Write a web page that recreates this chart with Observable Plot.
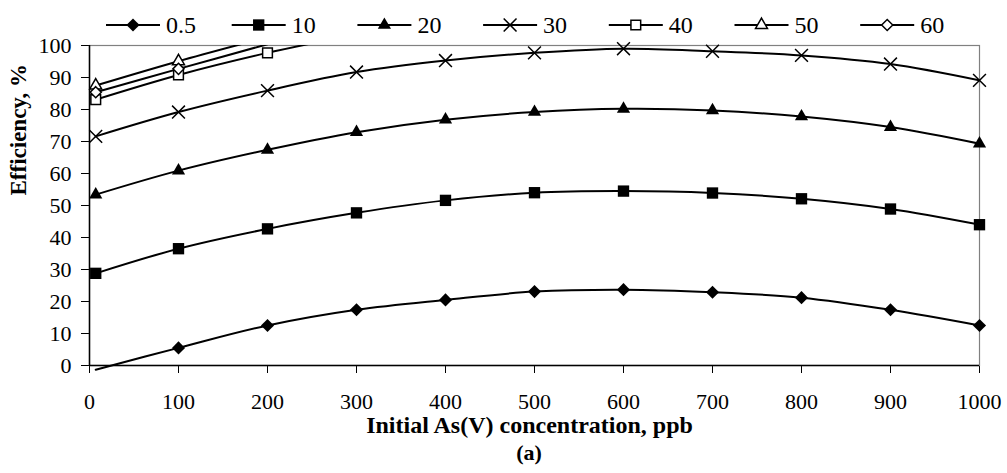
<!DOCTYPE html>
<html>
<head>
<meta charset="utf-8">
<script src="https://cdn.jsdelivr.net/npm/d3@7"></script>
<script src="https://cdn.jsdelivr.net/npm/@observablehq/plot@0.6"></script>
<style>
  html, body { margin: 0; padding: 0; background: #fff; }
  body { width: 1007px; height: 473px; overflow: hidden; font-family: "Liberation Serif", "Times New Roman", serif; color: #000; }
  #legend { height: 40px; }
  #legend svg, #chart svg { display: block; overflow: visible; }
  #caption { position: absolute; left: 0; top: 441px; width: 1007px; box-sizing: border-box; padding-left: 51px;
             text-align: center; font-weight: bold; font-size: 22px; line-height: 24px; }
</style>
</head>
<body>
<div id="legend"></div>
<div id="chart"></div>
<div id="caption">(a)</div>
<script>
// ---- data ----
const xValues = [7, 100, 200, 300, 400, 500, 600, 700, 800, 900, 1000];
const seriesNames = ["0.5", "10", "20", "30", "40", "50", "60"];
const eff05 = [-1.3, 5.5, 12.5, 17.4, 20.5, 23.1, 23.7, 22.9, 21.2, 17.4, 12.5];
const eff10 = [28.8, 36.5, 42.7, 47.7, 51.6, 54.0, 54.5, 53.9, 52.1, 48.9, 44.0];
const eff20 = [53.4, 60.9, 67.4, 72.9, 76.8, 79.2, 80.2, 79.7, 77.8, 74.5, 69.3];
const eff30 = [71.6, 79.2, 85.9, 91.7, 95.3, 97.7, 99.0, 98.2, 96.9, 94.2, 89.1];
const eff40 = [83.1, 90.8, 97.7, 103.5];
const eff50 = [87.5, 95.1, 102.6];
const eff60 = [85.4, 92.7, 100.4];
const xTicks = [0, 100, 200, 300, 400, 500, 600, 700, 800, 900, 1000];
const yTicks = [0, 10, 20, 30, 40, 50, 60, 70, 80, 90, 100];
const xTitle = "Initial As(V) concentration, ppb";
const yTitle = "Efficiency, %";

// ---- styles (kept apart from the data) ----
const markerStyles = [
  {symbol: "diamond2", d3sym: d3.symbolDiamond2, fill: "black", stroke: "none", r: 5.9},
  {symbol: "square",   d3sym: d3.symbolSquare,   fill: "black", stroke: "none", r: 6.4},
  {symbol: "triangle", d3sym: d3.symbolTriangle, fill: "black", stroke: "none", r: 4.9},
  {symbol: "times",    d3sym: d3.symbolTimes,    fill: "none",  stroke: "black", r: 5.9},
  {symbol: "square2",  d3sym: d3.symbolSquare2,  fill: "white", stroke: "black", r: 6.2},
  {symbol: "triangle2",d3sym: d3.symbolTriangle2,fill: "white", stroke: "black", r: 5.7},
  {symbol: "diamond2", d3sym: d3.symbolDiamond2, fill: "white", stroke: "black", r: 5.0}
];

// ---- build a tidy table from the arrays ----
const allValues = [eff05, eff10, eff20, eff30, eff40, eff50, eff60];
const rows = [];
allValues.forEach((vals, si) => {
  vals.forEach((v, i) => rows.push({series: seriesNames[si], idx: si, x: xValues[i], y: v}));
});

// ---- legend (above the chart) ----
(function buildLegend() {
  const W = 1007, H = 40;
  const svg = d3.select("#legend").append("svg").attr("width", W).attr("height", H);
  const itemW = 125.7, startX = 106, lineLen = 54, cy = 25;
  seriesNames.forEach((name, i) => {
    const st = markerStyles[i];
    const g = svg.append("g").attr("transform", `translate(${startX + i * itemW},0)`);
    g.append("line").attr("x1", 0).attr("x2", lineLen).attr("y1", cy).attr("y2", cy)
      .attr("stroke", "black").attr("stroke-width", 2);
    g.append("path")
      .attr("d", d3.symbol(st.d3sym, Math.PI * st.r * st.r)())
      .attr("transform", `translate(${lineLen / 2},${cy})`)
      .attr("fill", st.fill).attr("stroke", st.stroke).attr("stroke-width", 1.5);
    g.append("text").attr("x", lineLen + 6).attr("y", cy).attr("dy", "0.35em")
      .attr("font-family", "Liberation Serif").attr("font-size", 24).text(name);
  });
})();

// ---- chart ----
const dotMarks = seriesNames.map((name, i) => {
  const st = markerStyles[i];
  return Plot.dot(rows.filter(d => d.series === name && d.y >= 0 && d.y <= 100), {
    x: "x", y: "y", symbol: () => st.symbol, r: st.r,
    fill: st.fill, stroke: st.stroke, strokeWidth: 1.5
  });
});

const chart = Plot.plot({
  width: 1007,
  height: 400,
  marginLeft: 89,
  marginRight: 28,
  marginTop: 5,
  marginBottom: 75,
  style: {fontFamily: "Liberation Serif", fontSize: "22px", color: "black", background: "white", overflow: "visible"},
  symbol: {type: "identity"},
  x: {domain: [0, 1000], ticks: xTicks, tickSize: 8, tickPadding: 20, tickFormat: d => String(d), label: null},
  y: {domain: [0, 100], ticks: yTicks, tickSize: 8, tickPadding: 10, tickFormat: d => String(d), label: null},
  marks: [
    Plot.frame({stroke: "#808080", strokeWidth: 1.2}),
    Plot.line(rows.filter(d => d.series !== "0.5"), {
      x: "x", y: "y", z: "series", curve: "catmull-rom", stroke: "black", strokeWidth: 2, clip: true
    }),
    Plot.line(rows.filter(d => d.series === "0.5"), {
      x: "x", y: "y", curve: "catmull-rom", stroke: "black", strokeWidth: 2
    }),
    Plot.ruleX([0], {stroke: "black", strokeWidth: 1.5}),
    Plot.ruleY([0], {stroke: "black", strokeWidth: 1.5}),
    ...dotMarks,
    Plot.text([xTitle], {text: d => d, frameAnchor: "bottom", dx: -5, dy: 60,
      fontWeight: "bold", fontSize: 24, lineAnchor: "middle"}),
    Plot.text([yTitle], {text: d => d, frameAnchor: "left", dx: -71, dy: -10, rotate: -90,
      fontWeight: "bold", fontSize: 23, lineAnchor: "middle"})
  ]
});
document.getElementById("chart").appendChild(chart);
</script>
</body>
</html>
